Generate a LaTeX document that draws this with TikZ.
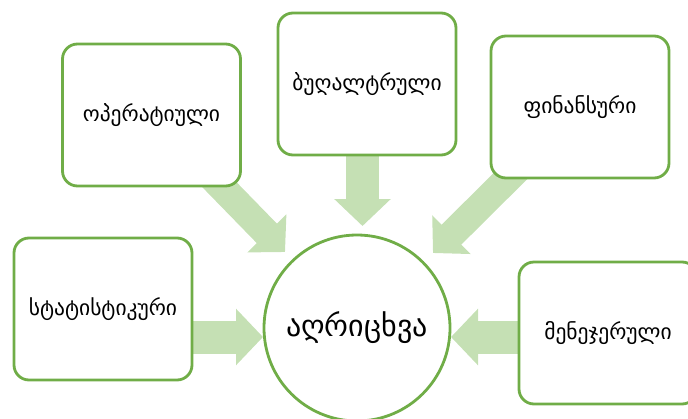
\documentclass[tikz,border=0pt]{standalone}
\usepackage{fontspec}
\newfontfamily\geofont{DejaVu Sans}
\usetikzlibrary{arrows.meta,backgrounds,calc}
\definecolor{framegreen}{HTML}{70AD47}
\definecolor{arrowgreen}{HTML}{C5E0B4}
\tikzset{
  topic/.style={draw=framegreen, line width=2.8pt, fill=white, rounded corners=15pt,
    minimum width=178pt, minimum height=142pt, inner sep=0pt,
    font=\geofont\fontsize{21.5}{25}\selectfont},
  hub/.style={draw=framegreen, line width=2.8pt, fill=white, circle,
    minimum size=186pt, inner sep=0pt,
    font=\geofont\fontsize{30}{36}\selectfont},
  straightarrow/.style={draw=arrowgreen, line width=33pt,
    -{Triangle[width=55pt,length=27pt,fill=arrowgreen]}},
  slantarrow/.style={draw=arrowgreen, line width=28pt,
    -{Triangle[width=53pt,length=26pt,fill=arrowgreen]}},
}
\begin{document}
\begin{tikzpicture}[x=1pt,y=-1pt]
  \useasboundingbox (0,0) rectangle (688,418);
  \begin{scope}
    \clip (0,0) rectangle (688,418);
    % centre circle and the five source boxes
    \node[hub]   (acc)   at (357,328) {აღრიცხვა};
    \node[topic] (oper)  at (151.5,115) {ოპერატიული};
    \node[topic] (book)  at (367,84)   {ბუღალტრული};
    \node[topic] (fin)   at (580,107)  {ფინანსური};
    \node[topic] (stat)  at (103,309)  {სტატისტიკური};
    \node[topic] (mgmt)  at (608,333)  {მენეჯერული};
    % arrow tips, placed around the circle
    \coordinate (tipL)  at ($(acc.center)+(-94,9)$);
    \coordinate (tipR)  at ($(acc.center)+(94,9)$);
    \coordinate (tipT)  at ($(acc.center)+(5.5,-102)$);
    \coordinate (tipTL) at ($(acc.center)+(-72,-76)$);
    \coordinate (tipTR) at ($(acc.center)+(76,-75)$);
    \begin{pgfonlayer}{background}
      \draw[straightarrow] (stat.center |- tipL) -- (tipL);
      \draw[straightarrow] (mgmt.center |- tipR) -- (tipR);
      \draw[straightarrow] (book.center -| tipT) -- (tipT);
      \draw[slantarrow] (oper.center) -- (tipTL);
      \draw[slantarrow] (fin.center) -- (tipTR);
    \end{pgfonlayer}
  \end{scope}
\end{tikzpicture}
\end{document}
